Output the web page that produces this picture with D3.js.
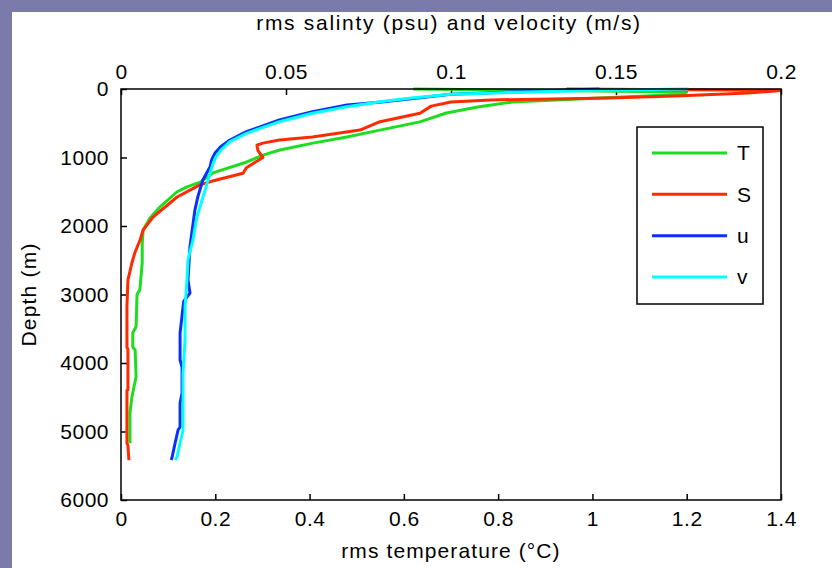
<!DOCTYPE html>
<html>
<head>
<meta charset="utf-8">
<script src="https://cdn.jsdelivr.net/npm/d3@7"></script>
<style>
  body { margin: 0; background: #7b7bab; }
  svg { display: block; }
  text { font-family: "Liberation Sans", Arial, sans-serif; fill: #000; }
</style>
</head>
<body>
<script>
// depth (m) and rms values
const tDepth = [0, 45, 80, 120, 190, 260, 350, 480, 600, 700, 790, 890, 965, 1065, 1225, 1360, 1430, 1500, 1720, 1880, 2060, 2250, 2540, 2930, 3000, 3470, 3560, 3770, 3810, 4200, 4500, 4730, 5170];
const tRms = [0.62, 1.2, 1.19, 1.05, 0.83, 0.76, 0.69, 0.634, 0.549, 0.479, 0.407, 0.337, 0.301, 0.267, 0.195, 0.168, 0.14, 0.119, 0.083, 0.062, 0.047, 0.045, 0.045, 0.040, 0.034, 0.032, 0.025, 0.025, 0.030, 0.032, 0.023, 0.019, 0.019];

const sDepth = [0, 20, 60, 100, 130, 160, 190, 250, 355, 477, 600, 700, 745, 790, 820, 900, 1000, 1150, 1230, 1340, 1400, 1577, 1870, 2060, 2200, 2390, 2540, 2790, 3180, 3770, 3800, 4390, 4400, 5170, 5200, 5420];
const sRms = [0.135, 0.2, 0.19, 0.17, 0.148, 0.112, 0.1, 0.094, 0.0906, 0.0785, 0.0724, 0.058, 0.048, 0.043, 0.0412, 0.0415, 0.043, 0.038, 0.037, 0.028, 0.0239, 0.017, 0.0097, 0.0067, 0.0058, 0.0042, 0.0033, 0.0021, 0.0018, 0.0018, 0.0021, 0.0021, 0.0018, 0.0018, 0.0021, 0.0024];

const uDepth = [0, 15, 40, 75, 130, 190, 234, 331, 453, 623, 745, 842, 934, 1030, 1134, 1328, 1572, 1766, 2302, 2788, 2978, 3100, 3562, 3956, 4058, 4438, 4584, 4934, 4978, 5168, 5372, 5416];
const uRms = [0.145, 0.135, 0.12, 0.1, 0.09, 0.079, 0.0685, 0.058, 0.048, 0.038, 0.033, 0.0302, 0.0285, 0.0275, 0.027, 0.0248, 0.0233, 0.0224, 0.0209, 0.0203, 0.0209, 0.019, 0.0179, 0.0179, 0.0185, 0.0185, 0.0179, 0.0179, 0.0173, 0.0164, 0.0155, 0.0152];

const vDepth = [0, 20, 58, 75, 130, 185, 258, 355, 477, 647, 769, 880, 988, 1100, 1231, 1572, 1864, 2204, 2496, 2788, 3182, 3664, 4146, 4978, 5168, 5372, 5416];
const vRms = [0.172, 0.145, 0.113, 0.1, 0.088, 0.0785, 0.0685, 0.058, 0.048, 0.038, 0.033, 0.0305, 0.0288, 0.0278, 0.027, 0.0249, 0.023, 0.0218, 0.0203, 0.02, 0.0194, 0.0194, 0.0188, 0.0188, 0.0179, 0.017, 0.0164];

const tempTicks = [0, 0.2, 0.4, 0.6, 0.8, 1, 1.2, 1.4];
const velTicks = [0, 0.05, 0.1, 0.15, 0.2];
const depthTicks = [0, 1000, 2000, 3000, 4000, 5000, 6000];

const legendNames = ['T', 'S', 'u', 'v'];
const colors = {T: '#1edc1e', S: '#ff2a00', u: '#0a2eff', v: '#00ffff'};

const width = 832, height = 568;
const margin = {left: 121, right: 51, top: 89, bottom: 68};

const svg = d3.select('body').append('svg')
    .attr('width', width)
    .attr('height', height);

// figure area (white) inside the purple frame
svg.append('rect')
    .attr('x', 12).attr('y', 12)
    .attr('width', width - 12).attr('height', height - 12)
    .attr('fill', '#fff');

const xT = d3.scaleLinear().domain([0, 1.4]).range([margin.left, width - margin.right]);
const xV = d3.scaleLinear().domain([0, 0.2]).range([margin.left, width - margin.right]);
const y = d3.scaleLinear().domain([0, 6000]).range([margin.top, height - margin.bottom]);

const fmt = d => String(d);

const bottomAxis = svg.append('g')
    .attr('transform', `translate(0,${height - margin.bottom})`)
    .call(d3.axisBottom(xT).tickValues(tempTicks).tickFormat(fmt).tickSizeInner(-6).tickSizeOuter(0).tickPadding(11));

const topAxis = svg.append('g')
    .attr('transform', `translate(0,${margin.top})`)
    .call(d3.axisTop(xV).tickValues(velTicks).tickFormat(fmt).tickSizeInner(-6).tickSizeOuter(0).tickPadding(10));

const leftAxis = svg.append('g')
    .attr('transform', `translate(${margin.left},0)`)
    .call(d3.axisLeft(y).tickValues(depthTicks).tickFormat(fmt).tickSizeInner(-6).tickSizeOuter(0).tickPadding(12));

[bottomAxis, topAxis, leftAxis].forEach(g => {
    g.select('.domain').remove();
    g.selectAll('line').attr('stroke', '#000').attr('stroke-width', 1.5);
    g.selectAll('text').attr('font-size', 21).attr('letter-spacing', 0.5)
        .attr('font-family', '"Liberation Sans", Arial, sans-serif');
});

svg.append('clipPath').attr('id', 'plot-clip')
    .append('rect')
    .attr('x', margin.left).attr('y', margin.top - 2)
    .attr('width', width - margin.left - margin.right)
    .attr('height', height - margin.top - margin.bottom + 2);

const series = [
    {name: 'T', depth: tDepth, vals: tRms, x: xT},
    {name: 'S', depth: sDepth, vals: sRms, x: xV},
    {name: 'u', depth: uDepth, vals: uRms, x: xV},
    {name: 'v', depth: vDepth, vals: vRms, x: xV}
];

const curves = svg.append('g').attr('clip-path', 'url(#plot-clip)');
series.forEach(s => {
    const line = d3.line()
        .x((d, i) => s.x(s.vals[i]))
        .y(d => y(d));
    curves.append('path')
        .datum(s.depth)
        .attr('d', line)
        .attr('fill', 'none')
        .attr('stroke', colors[s.name])
        .attr('stroke-width', 3)
        .attr('stroke-linejoin', 'round');
});

// plot box
svg.append('rect')
    .attr('x', margin.left).attr('y', margin.top)
    .attr('width', width - margin.left - margin.right)
    .attr('height', height - margin.top - margin.bottom)
    .attr('fill', 'none')
    .attr('stroke', '#000')
    .attr('stroke-width', 1.5);

// axis titles
svg.append('text')
    .attr('x', (margin.left + width - margin.right) / 2 - 2)
    .attr('y', 30)
    .attr('text-anchor', 'middle')
    .attr('font-size', 21).attr('letter-spacing', 1.7)
    .text('rms salinty (psu) and velocity (m/s)');

svg.append('text')
    .attr('x', (margin.left + width - margin.right) / 2)
    .attr('y', 558)
    .attr('text-anchor', 'middle')
    .attr('font-size', 21).attr('letter-spacing', 1.1)
    .text('rms temperature (°C)');

svg.append('text')
    .attr('transform', `translate(36,${(margin.top + height - margin.bottom) / 2}) rotate(-90)`)
    .attr('text-anchor', 'middle')
    .attr('font-size', 21).attr('letter-spacing', 1.2)
    .text('Depth (m)');

// legend
const legend = svg.append('g').attr('transform', 'translate(637,127)');
legend.append('rect')
    .attr('width', 126).attr('height', 177)
    .attr('fill', '#fff')
    .attr('stroke', '#000')
    .attr('stroke-width', 1.5);

const legendY = d3.scalePoint().domain(legendNames).range([26, 150]);
legendNames.forEach(n => {
    legend.append('line')
        .attr('x1', 15).attr('x2', 90)
        .attr('y1', legendY(n)).attr('y2', legendY(n))
        .attr('stroke', colors[n])
        .attr('stroke-width', 3);
    legend.append('text')
        .attr('x', 100)
        .attr('y', legendY(n))
        .attr('dy', '0.35em')
        .attr('font-size', 21)
        .text(n);
});
</script>
</body>
</html>
